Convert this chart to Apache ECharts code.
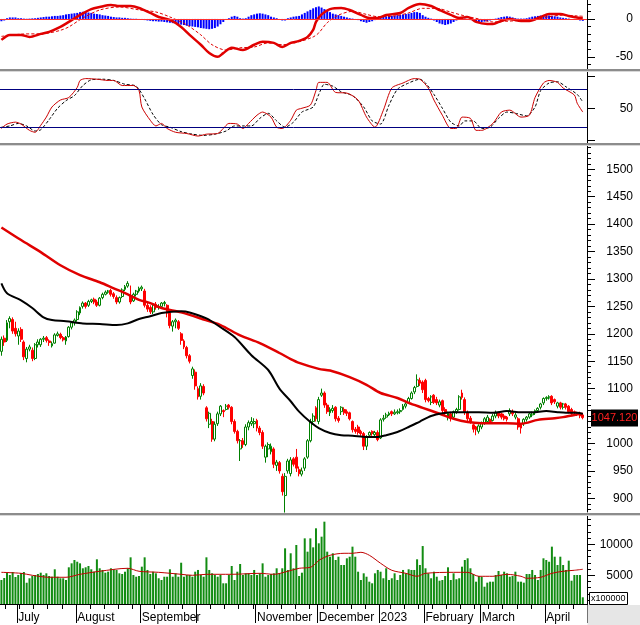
<!DOCTYPE html>
<html><head><meta charset="utf-8">
<script src="https://cdn.jsdelivr.net/npm/echarts@6/dist/echarts.min.js"></script>
<style>html,body{margin:0;padding:0;background:#fff}#c{width:640px;height:625px}</style>
</head><body><div id="c"></div>
<script>
// ---------- categories (trading days) ----------
const startDate = '2022-06-23', endDate = '2023-04-20';
const holidays = ['2022-09-01','2022-09-02','2023-01-02','2023-01-20','2023-01-23','2023-01-24','2023-01-25','2023-01-26'];
const monthLabels = ['2023','February','March','April','May','June','July','August','September','','November','December'];

// ---------- price (OHLC) ----------
const open = [1168,1192,1188,1222,1226,1210,1196,1208,1185,1155,
1172,1170,1155,1180,1180,1190,1193,1187,1178,1183,
1197,1199,1193,1187,1195,1212,1220,1226,1238,1250,
1256,1252,1259,1263,1258,1252,1266,1272,1276,1279,
1273,1266,1258,1268,1281,1287,1270,1260,1272,1278,
1282,1278,1252,1248,1240,1254,1248,1250,1255,1252,
1238,1214,1222,1222,1200,1187,1175,1160,1124,1130,
1100,1086,1104,1065,1035,1040,1008,1036,1054,1060,
1062,1070,1066,1040,1022,990,1005,998,1030,1036,
1036,1042,1028,1020,975,990,985,990,960,965,
940,905,950,945,972,975,952,944,955,975,
1005,1040,1065,1040,1088,1092,1070,1056,1060,1066,
1046,1058,1062,1058,1056,1040,1026,1030,1022,1018,
995,1015,1022,1016,1020,1010,1044,1048,1052,1058,
1054,1056,1058,1062,1068,1074,1082,1094,1104,1115,
1112,1115,1082,1075,1088,1080,1070,1078,1062,1048,
1054,1048,1058,1062,1092,1080,1056,1046,1034,1030,
1022,1030,1038,1040,1044,1042,1050,1056,1054,1050,
1048,1054,1058,1048,1045,1034,1036,1044,1048,1052,
1056,1060,1066,1074,1082,1083,1086,1080,1068,1074,
1066,1072,1068,1062,1058,1056,1055,1052];
const close = [1190,1185,1220,1228,1205,1200,1205,1190,1158,1172,
1176,1155,1180,1185,1190,1192,1188,1184,1182,1198,
1200,1193,1189,1194,1212,1220,1225,1240,1248,1256,
1250,1259,1262,1258,1252,1265,1272,1276,1278,1272,
1268,1258,1266,1280,1286,1292,1258,1272,1278,1283,
1285,1252,1245,1240,1254,1248,1250,1256,1257,1238,
1215,1222,1225,1210,1188,1176,1160,1150,1136,1105,
1085,1105,1092,1045,1055,1008,1035,1054,1068,1058,
1068,1066,1040,1022,1005,1005,998,1030,1038,1040,
1040,1028,1020,995,995,998,995,962,966,950,
912,940,968,970,962,955,945,950,972,1005,
1040,1050,1045,1080,1092,1070,1058,1062,1064,1045,
1042,1066,1056,1055,1045,1025,1022,1020,1018,995,
1012,1020,1018,1020,1007,1043,1046,1052,1055,1054,
1057,1058,1060,1068,1072,1082,1092,1102,1116,1110,
1098,1080,1078,1085,1075,1074,1076,1060,1055,1055,
1046,1058,1062,1085,1084,1058,1045,1040,1026,1025,
1032,1038,1045,1048,1040,1050,1056,1050,1048,1045,
1044,1060,1054,1052,1030,1028,1044,1048,1054,1056,
1060,1064,1072,1082,1084,1085,1074,1076,1074,1066,
1072,1066,1058,1055,1056,1054,1050,1047.12];
const low = [1160,1178,1185,1210,1200,1195,1180,1185,1152,1148,
1168,1150,1152,1175,1176,1185,1184,1178,1175,1182,
1195,1190,1186,1180,1193,1208,1215,1222,1234,1246,
1246,1249,1256,1254,1249,1250,1263,1270,1273,1268,
1264,1254,1255,1265,1278,1284,1254,1258,1268,1275,
1278,1248,1240,1236,1236,1244,1244,1247,1250,1230,
1210,1204,1210,1207,1180,1172,1155,1146,1118,1098,
1080,1080,1088,1040,1028,1003,1004,1032,1050,1048,
1060,1062,1035,1018,1000,968,992,995,1024,1032,
1028,1022,1015,990,965,975,980,955,950,945,
905,874,945,940,958,948,940,940,950,972,
1002,1034,1040,1035,1085,1065,1054,1050,1056,1040,
1038,1052,1052,1050,1042,1020,1018,1016,1014,988,
988,1012,1014,1012,1004,1008,1040,1045,1050,1050,
1052,1053,1054,1060,1064,1072,1080,1090,1102,1105,
1092,1075,1075,1070,1072,1070,1066,1055,1050,1042,
1040,1044,1054,1060,1080,1052,1040,1036,1020,1015,
1018,1026,1034,1036,1036,1040,1046,1046,1044,1042,
1040,1050,1050,1044,1025,1018,1032,1040,1045,1048,
1052,1056,1062,1070,1078,1080,1070,1072,1064,1062,
1062,1062,1055,1052,1050,1050,1046,1044];
const high = [1195,1197,1225,1232,1230,1222,1210,1212,1188,1176,
1180,1175,1183,1190,1192,1196,1196,1190,1186,1201,
1204,1202,1196,1196,1214,1223,1228,1243,1250,1259,
1258,1262,1264,1266,1262,1267,1275,1279,1280,1282,
1276,1270,1268,1283,1289,1296,1288,1275,1280,1286,
1288,1282,1258,1252,1256,1258,1254,1258,1260,1254,
1240,1225,1228,1225,1203,1190,1178,1163,1140,1135,
1104,1110,1108,1068,1058,1045,1040,1058,1070,1062,
1072,1072,1068,1044,1025,1008,1010,1035,1042,1048,
1046,1045,1032,1024,998,1002,1000,993,970,968,
945,946,972,975,975,990,958,956,975,1008,
1045,1055,1068,1085,1100,1095,1074,1066,1070,1068,
1050,1068,1066,1062,1058,1042,1030,1034,1025,1021,
1015,1022,1024,1023,1024,1046,1052,1056,1058,1060,
1062,1062,1064,1072,1075,1085,1095,1105,1126,1120,
1115,1118,1085,1088,1090,1085,1080,1080,1066,1058,
1058,1060,1065,1088,1098,1084,1060,1050,1036,1032,
1035,1040,1048,1052,1046,1054,1060,1058,1056,1054,
1050,1064,1062,1056,1048,1036,1046,1050,1057,1058,
1062,1066,1074,1084,1086,1088,1088,1082,1076,1076,
1074,1074,1070,1065,1060,1058,1058,1055];

// moving averages of price, read at sample bars [barIndex, value]
const maBlack = [[0,1292],[2,1274],[7,1261],[11,1247],[15,1230],[18,1225],[23,1223],[29,1219],[35,1218],[41,1216],[45,1219],[49,1227],[53,1232],[57,1238],[64,1241],[67,1239],[73,1228],[78,1212],[83,1194],[89,1161],[95,1134],[99,1100],[103,1077],[106,1058],[110,1039],[113,1028],[117,1019],[121,1015],[125,1014],[130,1012],[134,1012],[137,1015],[141,1021],[145,1030],[149,1040],[153,1050],[157,1055],[161,1057],[166,1057],[170,1057],[175,1056],[180,1059],[185,1057],[189,1057],[194,1059],[198,1057],[201,1056],[205,1056],[207,1054]];
const maRed = [[0,1394],[7,1371],[14,1349],[21,1325],[28,1307],[35,1294],[40,1283],[45,1272],[49,1262],[53,1256],[57,1247],[64,1239],[71,1228],[78,1216],[85,1197],[92,1183],[99,1165],[103,1154],[106,1147],[113,1136],[117,1133],[124,1121],[130,1107],[135,1092],[141,1083],[145,1074],[150,1065],[155,1056],[161,1045],[166,1039],[171,1037],[180,1037],[185,1036],[191,1043],[197,1046],[200,1048],[204,1052],[207,1054]];

// ---------- volume (x100000) ----------
const volume = [4240,4560,5370,5050,5530,4730,5050,5370,5530,3800,
4520,4890,5050,5210,5420,5050,5320,4890,4770,5970,
4770,4520,4520,4240,6290,6930,7470,7190,6930,6130,
6290,6500,5970,5580,7580,6130,5860,5420,5580,6130,
5970,5860,5320,5210,5580,6130,7900,5050,4770,4890,
6390,7900,5860,5210,5580,5320,4520,4240,4770,4770,
5970,4770,5320,4770,7030,4770,5050,5050,4770,5580,
5860,5050,4770,7900,5860,5320,5050,4770,5050,3710,
3710,5050,6500,4240,5580,6820,5050,5320,5320,5050,
5860,5050,5320,6930,4770,5050,5210,5320,6130,5320,
6130,9350,5860,8550,6130,9890,4890,5420,10960,8810,
10960,9510,12580,10160,11230,13650,8810,8000,8550,7470,
8000,6660,6660,7740,8000,9620,8000,5580,4240,5320,
4770,3970,3710,5320,5860,5580,4520,6130,4240,4520,
5320,4240,5050,5860,5320,5970,5860,5860,7580,6660,
9720,6130,5320,4520,5580,4770,4130,4240,4890,6290,
4240,5320,4360,4520,6390,7470,7740,6130,5210,3970,
4890,4770,3160,3810,3970,3970,5050,5690,5050,5580,
5320,4770,4890,5580,3970,3970,3810,5210,5210,5860,
5050,4240,5860,7740,7470,7190,9620,8000,6660,8000,
6660,5860,7360,4130,5050,5050,5050,1450];
const volMa = [[0,5480],[7,5320],[11,5000],[17,4680],[23,4680],[28,5160],[35,5650],[45,6130],[49,5650],[56,5480],[64,5160],[68,5000],[73,5160],[82,5160],[92,5320],[97,5160],[102,5650],[106,6130],[110,6290],[112,6940],[113,7420],[117,8230],[122,8550],[125,8550],[128,8710],[131,8230],[135,6940],[139,5810],[144,5320],[148,4840],[151,5320],[161,5480],[166,5480],[170,4840],[175,4840],[180,5160],[185,4840],[187,4520],[192,4680],[196,5320],[200,5650],[204,5810],[207,5970]];

// ---------- MACD ----------
const macdHist = [-3,-2,1,2,2,2,1,1,0.5,0.3,
0.5,0.8,1,1.5,2,2.5,3,3,3.5,4,
4,4.5,5,6,6.5,7,7.5,8,9,9.5,
9,8.5,8,7,6.5,6,5,4.5,4,3,
2.5,2,2,1.5,1.5,1,0.5,0.3,0.3,-0.5,
-1,-1.5,-2,-2.5,-3,-3,-3.5,-3.5,-4,-4.5,
-5,-5.5,-6,-7,-7.5,-8,-9,-9.5,-10,-10.5,
-11,-12,-12.5,-13,-13.5,-13,-12,-10,-7,-4,
-1,1,3,4,3,1,0.5,1,3,5,
6,7,7.5,7,6,5,3,2,1,-1,
-2,-2,1,2,3,3.5,4,6,8,10,
12,14,15.5,16.5,15,13,11,9,7,6,
5,4,3,2,1,0.5,-0.5,-1.5,-3,-4,
-5,-4,-3,-1.5,0,2,3,3.5,4,4,
4.5,5,5.5,6,6.5,7,8,9,9,8,
5,3,1.5,0.5,-2,-4,-6,-7,-8,-7,
-6,-4,-2,-1,0.5,0.5,-0.5,-1.5,-2.5,-3.5,
-4,-4,-3.5,-3,-2,-1,0.5,1.5,2.5,3,
3.5,3,2,1,0.5,0.5,0.5,1,2,3,
3.5,4,4.5,5,5,4.5,4,3.5,3,2,
1.5,1,0.5,0,-0.5,-1,-2,-2.5];
const macdLine = [[0,-27.6],[3,-21],[7,-21],[10,-23.7],[14,-19.7],[17,-17],[21,-10.5],[24,-3.9],[28,5.3],[32,13],[35,15.8],[39,18.4],[42,17],[46,17],[49,14.5],[53,7.9],[56,2.6],[60,-1.3],[64,-10.5],[67,-21],[71,-34],[74,-45],[77,-50],[79,-45],[82,-38],[86,-41],[90,-34],[93,-30],[97,-31.6],[100,-37],[103,-31.6],[106,-29],[109,-23.7],[111,-14.5],[112,-3.9],[114,6],[117,13],[121,14.5],[124,11.8],[128,5.3],[131,1.3],[134,1.3],[137,5.3],[142,7.9],[145,14.5],[149,19.7],[153,17],[156,11.8],[160,5.3],[163,1.3],[166,2.6],[169,-3.9],[173,-6.6],[175,-6.6],[178,-2.6],[181,0],[185,-2.6],[188,-2.6],[192,2.6],[195,6.6],[199,6.6],[202,3.9],[206,1.3],[207,1]];
const macdSignal = [[0,-23],[7,-20],[14,-19.5],[17,-18.4],[21,-15],[24,-10.5],[29,1.3],[35,11.8],[42,15.8],[49,12],[55,9.2],[60,2.6],[66,-7.9],[71,-21],[75,-34],[80,-41],[85,-38],[90,-37],[95,-31.6],[100,-34],[106,-30],[111,-23.7],[113,-18.4],[116,-5],[120,5],[125,10],[130,6],[134,3],[140,4],[145,8],[150,14],[155,14],[160,9],[165,4],[170,0],[175,-4],[180,-3],[185,-2],[190,-1],[195,3],[200,5],[205,4],[207,3.5]];

// ---------- Stochastic ----------
const stochK = [[0,18],[2,25],[5,28],[7,25],[10,15],[12,12],[14,23],[16,36],[18,52],[21,63],[24,67],[27,83],[28,94],[30,97],[34,96],[38,94],[40,94],[43,86],[47,86],[49,78],[50,52],[53,31],[55,22],[57,26],[59,18],[62,12],[66,10],[70,6],[73,9],[77,10],[79,18],[81,26],[84,25],[86,18],[88,26],[91,39],[93,44],[96,36],[98,20],[100,18],[103,31],[105,47],[107,50],[110,55],[112,78],[113,91],[116,91],[119,75],[123,74],[127,63],[130,36],[133,20],[136,47],[139,82],[143,90],[147,97],[149,96],[152,82],[154,63],[157,39],[160,18],[162,18],[164,36],[167,34],[169,15],[171,15],[175,26],[178,44],[181,47],[185,36],[188,39],[190,67],[193,90],[195,94],[198,91],[200,82],[204,71],[205,58],[207,44]];
const stochD = [[0,20],[3,22],[6,26],[9,22],[12,14],[14,16],[17,32],[20,50],[23,62],[26,70],[29,86],[32,95],[36,96],[40,94],[44,88],[48,85],[51,65],[54,40],[57,24],[60,20],[64,13],[68,9],[72,7],[76,9],[80,14],[83,22],[86,22],[89,22],[92,34],[95,42],[98,30],[101,20],[104,28],[107,44],[111,52],[113,72],[115,88],[118,85],[121,76],[125,70],[129,52],[132,30],[135,25],[138,55],[141,80],[145,90],[149,96],[151,90],[154,72],[157,50],[160,28],[163,22],[165,30],[168,30],[171,18],[174,20],[177,34],[180,44],[183,42],[187,38],[190,52],[192,78],[195,90],[198,92],[201,84],[205,72],[207,60]];
const stochLevels = [80, 20];

// ---------- tick values ----------
const macdTicks = [-50, 0];
const stochTicks = [0, 50, 100];
const stochLabels = [50];
const priceTicks = [900,950,1000,1050,1100,1150,1200,1250,1300,1350,1400,1450,1500];
const volTicks = [5000, 10000];

// build categories
const cats = [];
(function () {
  const hol = new Set(holidays);
  let t = Date.parse(startDate + 'T00:00:00Z');
  const end = Date.parse(endDate + 'T00:00:00Z');
  while (t <= end) {
    const d = new Date(t);
    const wd = d.getUTCDay();
    const s = d.toISOString().slice(0, 10);
    if (wd !== 0 && wd !== 6 && !hol.has(s)) cats.push(s);
    t += 86400000;
  }
  cats.push(''); // empty slot at the right edge
})();
const dow = s => new Date(s + 'T00:00:00Z').getUTCDay();
const isMonthStart = i => i > 0 && cats[i] !== '' && cats[i].slice(0, 7) !== cats[i - 1].slice(0, 7);
const isWeekStart = i => i > 0 && cats[i] !== '' && dow(cats[i]) <= dow(cats[i - 1]);
const monthLabel = i => cats[i] ? monthLabels[parseInt(cats[i].slice(5, 7), 10) - 1] : '';

function minorList(lo, hi, step, skip) {
  const a = [];
  for (let v = lo; v <= hi; v += step) if (!skip.includes(v)) a.push(v);
  return a;
}

const FONT = 'Liberation Sans, Arial, sans-serif';
const GRID_W = 587;
const grids = [
  { left: 0, width: GRID_W, top: 0, height: 69 },
  { left: 0, width: GRID_W, top: 72, height: 71 },
  { left: 0, width: GRID_W, top: 146, height: 366 },
  { left: 0, width: GRID_W, top: 516, height: 88 }
].map(g => Object.assign({ outerBoundsMode: 'none', containLabel: false, show: false }, g));

function hiddenX(gi) {
  return { type: 'category', gridIndex: gi, data: cats, boundaryGap: true, show: false };
}
function yMajor(gi, min, max, ticks, labels, fmt) {
  return {
    type: 'value', gridIndex: gi, position: 'right', min: min, max: max,
    axisLine: { show: true, onZero: false, lineStyle: { color: '#000', width: 1 } },
    axisTick: { show: true, inside: false, length: 8, customValues: ticks, lineStyle: { color: '#000' } },
    axisLabel: { show: true, customValues: labels, margin: 46, align: 'right', color: '#000', fontSize: 12, fontFamily: FONT,
      formatter: fmt || (v => String(v)) },
    splitLine: { show: false }
  };
}
function yMinor(gi, min, max, ticks) {
  return {
    type: 'value', gridIndex: gi, position: 'right', min: min, max: max,
    axisLine: { show: false },
    axisTick: { show: true, inside: false, length: 4, customValues: ticks, lineStyle: { color: '#000' } },
    axisLabel: { show: false },
    splitLine: { show: false }
  };
}

const option = {
  animation: false,
  backgroundColor: '#ffffff',
  textStyle: { fontFamily: FONT },
  grid: grids,
  xAxis: [
    hiddenX(0), hiddenX(1), hiddenX(2),
    {
      type: 'category', gridIndex: 3, data: cats, boundaryGap: true, position: 'bottom',
      axisLine: { show: true, onZero: false, lineStyle: { color: '#000', width: 1 } },
      axisTick: { show: true, interval: (i) => isMonthStart(i), length: 19, lineStyle: { color: '#000' } },
      axisLabel: { show: true, interval: (i) => isMonthStart(i) && monthLabel(i) !== '',
        formatter: (v, i) => monthLabel(i), align: 'left', margin: 8, color: '#000', fontSize: 12, fontFamily: FONT },
      splitLine: { show: false }
    },
    {
      type: 'category', gridIndex: 3, data: cats, boundaryGap: true, position: 'bottom', offset: 0,
      axisLine: { show: false, onZero: false },
      axisTick: { show: true, interval: (i) => isWeekStart(i), length: 5, lineStyle: { color: '#000' } },
      axisLabel: { show: false },
      splitLine: { show: false }
    }
  ],
  yAxis: [
    yMajor(0, -66, 25, macdTicks, macdTicks),
    yMinor(0, -66, 25, minorList(-60, 20, 10, macdTicks)),
    yMajor(1, -5, 107.4, stochTicks, stochLabels),
    yMajor(2, 875, 1542.5, priceTicks, priceTicks),
    yMinor(2, 875, 1542.5, minorList(880, 1540, 10, priceTicks)),
    yMajor(3, 370, 14565, volTicks, volTicks),
    yMinor(3, 370, 14565, minorList(1000, 14000, 1000, volTicks))
  ],
  series: [
    // MACD panel
    { type: 'bar', xAxisIndex: 0, yAxisIndex: 0, data: macdHist, barWidth: 2,
      itemStyle: { color: '#0000ff' }, silent: true },
    { type: 'line', xAxisIndex: 0, yAxisIndex: 0, data: macdSignal, symbol: 'none', smooth: 0.3,
      lineStyle: { color: '#e00000', width: 1, type: [3, 2] }, silent: true },
    { type: 'line', xAxisIndex: 0, yAxisIndex: 0, data: macdLine, symbol: 'none', smooth: 0.3,
      lineStyle: { color: '#e00000', width: 2.5 }, silent: true, z: 3,
      markLine: { silent: true, symbol: 'none', label: { show: false },
        lineStyle: { color: '#ff3030', width: 1, type: 'solid' }, data: [{ yAxis: 0 }] } },
    // Stochastic panel
    { type: 'line', xAxisIndex: 1, yAxisIndex: 2, data: stochD, symbol: 'none', smooth: 0.25,
      lineStyle: { color: '#000000', width: 1, type: [3, 2] }, silent: true,
      markLine: { silent: true, symbol: 'none', label: { show: false },
        lineStyle: { color: '#000080', width: 1, type: 'solid' }, data: stochLevels.map(v => ({ yAxis: v })) } },
    { type: 'line', xAxisIndex: 1, yAxisIndex: 2, data: stochK, symbol: 'none', smooth: 0.25,
      lineStyle: { color: '#cc0000', width: 1 }, silent: true },
    // Price panel
    { type: 'candlestick', xAxisIndex: 2, yAxisIndex: 3, barWidth: 2.4,
      data: open.map((o, i) => [o, close[i], low[i], high[i]]),
      itemStyle: { color: '#ffffff', color0: '#ff0000', borderColor: '#008000', borderColor0: '#ff0000',
        borderColorDoji: '#008000', borderWidth: 1 }, silent: true },
    { type: 'line', xAxisIndex: 2, yAxisIndex: 3, data: maRed, symbol: 'none', smooth: 0.3,
      lineStyle: { color: '#e00000', width: 2.5 }, silent: true },
    { type: 'line', xAxisIndex: 2, yAxisIndex: 3, data: maBlack, symbol: 'none', smooth: 0.3,
      lineStyle: { color: '#000000', width: 2 }, silent: true },
    // Volume panel
    { type: 'bar', xAxisIndex: 3, yAxisIndex: 5, data: volume, barWidth: 2,
      itemStyle: { color: '#128c12' }, silent: true },
    { type: 'line', xAxisIndex: 3, yAxisIndex: 5, data: volMa, symbol: 'none', smooth: 0.3,
      lineStyle: { color: '#c00000', width: 1 }, silent: true }
  ]
};

const chart = echarts.init(document.getElementById('c'), null, { renderer: 'canvas' });
chart.setOption(option);

const lastClose = close[close.length - 1];
const yLast = chart.convertToPixel({ yAxisIndex: 3 }, lastClose);
const sep = (y) => [
  { type: 'rect', silent: true, z: 100, shape: { x: 0, y: y, width: 640, height: 2 }, style: { fill: '#8c8c8c' } },
  { type: 'rect', silent: true, z: 100, shape: { x: 0, y: y + 2, width: 640, height: 1 }, style: { fill: '#d8d8d8' } }
];
chart.setOption({
  graphic: [].concat(
    sep(69), sep(143), sep(513),
    [
      { type: 'rect', silent: true, z: 90, shape: { x: 587.5, y: 605, width: 53, height: 20 }, style: { fill: '#e6e6e6' } },
      { type: 'rect', silent: true, z: 101, shape: { x: 589.5, y: 592.5, width: 38, height: 12 },
        style: { fill: '#ffffff', stroke: '#000000', lineWidth: 1 } },
      { type: 'text', silent: true, z: 102, x: 591, y: 598.5,
        style: { text: 'x100000', fill: '#000', font: '9px ' + FONT, verticalAlign: 'middle', align: 'left' } },
      { type: 'rect', silent: true, z: 101, shape: { x: 591, y: Math.round(yLast) - 8.5, width: 47, height: 17 },
        style: { fill: '#000000' } },
      { type: 'text', silent: true, z: 102, x: 614.5, y: Math.round(yLast),
        style: { text: lastClose.toFixed(3), fill: '#ff2020', font: '11px ' + FONT, align: 'center', verticalAlign: 'middle' } }
    ]
  )
});
</script>
</body></html>
